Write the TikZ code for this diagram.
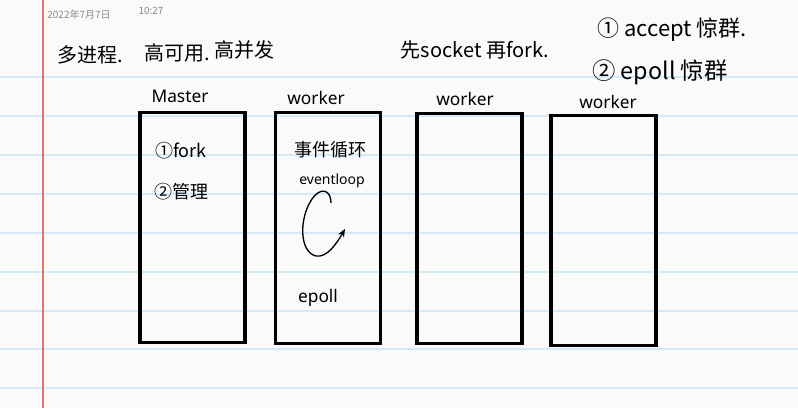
\documentclass[tikz,border=0pt]{standalone}
\usepackage{fontspec}
\setmainfont{Noto Sans}
\newfontfamily\cjk{Noto Sans CJK SC}
\usetikzlibrary{arrows.meta}
\definecolor{paper}{HTML}{FAFAFA}
\definecolor{ruleblue}{HTML}{D4EAF7}
\definecolor{marginred}{HTML}{E8706E}
\definecolor{stamp}{HTML}{8A8A8A}
\tikzset{
  ruleline/.style={ruleblue, line width=1.2pt},
  marginline/.style={marginred, line width=0.9pt},
  procbox/.style={draw=black, line width=2.3pt, inner sep=0pt, minimum width=78.75pt, minimum height=173pt},
  hand/.style={inner sep=0pt, font=\cjk\fontsize{13.5}{15}\selectfont},
  handbig/.style={inner sep=0pt, font=\cjk\fontsize{15}{18}\selectfont},
  label/.style={inner sep=0pt, font=\fontsize{13}{15}\selectfont},
  stampt/.style={inner sep=0pt, text=stamp, font=\cjk\fontsize{7.5}{9}\selectfont}
}
\begin{document}
\begin{tikzpicture}[x=0.75pt,y=-0.75pt]
\fill[paper] (0,0) rectangle (798,408);
\useasboundingbox (0,0) rectangle (798,408);
\foreach \y in {77,116,155,194,233,272,311,349,388}
  \draw[ruleline] (0,\y) -- (798,\y);
\draw[marginline] (43,0) -- (43,408);

\node[stampt] (date) at (79,15) {2022年7月7日};
\node[stampt] (time) at (151,11) {10:27};

\node[handbig] (t1) at (90,55) {多进程.};
\node[handbig] (t2) at (177,53) {高可用.};
\node[handbig] (t3) at (244,50) {高并发};
\node[handbig] (t4) at (475,50) {先socket 再fork.};
\node[handbig, font=\cjk\fontsize{16.5}{19}\selectfont] (t5) at (672,30) {① accept 惊群.};
\node[handbig, font=\cjk\fontsize{17.5}{20}\selectfont] (t6) at (660,72) {② epoll 惊群};

\node[procbox] (master) at (192.5,227.5) {};
\node[procbox] (w1) at (328,228) {};
\node[procbox] (w2) at (469.5,228.5) {};
\node[procbox] (w3) at (603.5,230.5) {};

\node[label] (lm) at (180,96) {Master};
\node[label] (l1) at (316,98) {worker};
\node[label] (l2) at (465,99) {worker};
\node[label] (l3) at (608,102) {worker};

\node[hand] (f1) at (181,151) {①fork};
\node[hand] (f2) at (181,192) {②管理};
\node[hand] (e1) at (330,150) {事件循环};
\node[label, font=\fontsize{10.5}{12}\selectfont] (e2) at (332,181) {eventloop};
\node[label] (e3) at (318,298) {epoll};

\draw[line width=1pt, -{Stealth[length=6pt,width=5pt]}]
  (331,203) .. controls (331,189) and (320,187) .. (312,199)
  .. controls (299,218) and (299,252) .. (316,256)
  .. controls (327,258) and (337,243) .. (345,229);
\end{tikzpicture}
\end{document}
